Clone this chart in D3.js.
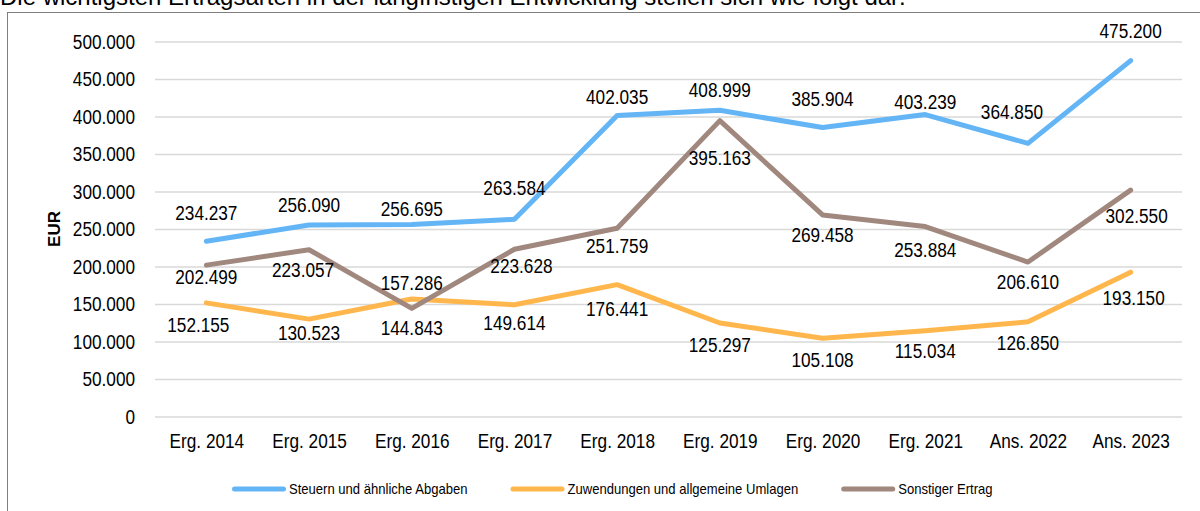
<!DOCTYPE html>
<html>
<head>
<meta charset="utf-8">
<script src="https://cdn.jsdelivr.net/npm/d3@7"></script>
<style>
  body { margin: 0; background: #fff; }
  svg text { font-family: "Liberation Sans", Arial, sans-serif; }
</style>
</head>
<body>
<script>
var categories = ["Erg. 2014", "Erg. 2015", "Erg. 2016", "Erg. 2017", "Erg. 2018",
                  "Erg. 2019", "Erg. 2020", "Erg. 2021", "Ans. 2022", "Ans. 2023"];
var steuern = [234237, 256090, 256695, 263584, 402035, 408999, 385904, 403239, 364850, 475200];
var zuwendungen = [152155, 130523, 157286, 149614, 176441, 125297, 105108, 115034, 126850, 193150];
var sonstiger = [202499, 223057, 144843, 223628, 251759, 395163, 269458, 253884, 206610, 302550];
var yTicks = [0, 50000, 100000, 150000, 200000, 250000, 300000, 350000, 400000, 450000, 500000];
var seriesNames = ["Steuern und ähnliche Abgaben", "Zuwendungen und allgemeine Umlagen", "Sonstiger Ertrag"];

// label offsets (px) relative to the point, as placed in the original
var steuernDy = [-28, -20, -15, -31, -18, -20, -29, -13, -31, -30];
var steuernDx = [0, 0, 0, 0, 0, 0, 0, 0, -16, 0];
var zuwendungenDy = [22, 14, -16, 18, 24, 22, 22, 20, 21, 26];
var zuwendungenDx = [-8, 0, 0, 0, 0, 0, 0, 0, 0, 3];
var sonstigerDy = [12, 20, 20, 17, 18, 37, 20, 23, 20, 26];
var sonstigerDx = [0, -6, 0, 7, 0, 0, 0, 0, 0, 6];

var colors = ["#64B5F6", "#FFB74D", "#A1887F"];

var width = 1200, height = 511;
var svg = d3.select("body").append("svg")
    .attr("width", width)
    .attr("height", height);

// the original font is narrower than Liberation Sans, so squeeze the glyphs a bit
function squeeze(sel, k) {
    sel.each(function () {
        var w = this.getComputedTextLength();
        d3.select(this)
            .attr("textLength", w * k)
            .attr("lengthAdjust", "spacingAndGlyphs");
    });
}

// intro sentence, cut at the top edge like in the source document
svg.append("text")
    .attr("x", 0)
    .attr("y", 5)
    .style("font-size", "24px")
    .text("Die wichtigsten Ertragsarten in der langfristigen Entwicklung stellen sich wie folgt dar:");

// chart frame
svg.append("rect")
    .attr("x", 7.5)
    .attr("y", 12.5)
    .attr("width", 1200)
    .attr("height", 520)
    .attr("fill", "none")
    .attr("stroke", "#7f7f7f")
    .attr("stroke-width", 1);

var x = d3.scalePoint()
    .domain(categories)
    .range([155, 1182])
    .padding(0.5);

var y = d3.scaleLinear()
    .domain([0, 500000])
    .range([417, 42]);

var fmt = function (v) { return d3.format(",")(v).replace(/,/g, "."); };

// gridlines
svg.append("g")
    .selectAll("line")
    .data(yTicks)
    .enter()
    .append("line")
    .attr("x1", 155)
    .attr("x2", 1182)
    .attr("y1", function (d) { return y(d); })
    .attr("y2", function (d) { return y(d); })
    .attr("stroke", "#d9d9d9")
    .attr("stroke-width", 1.5);

var yAxis = svg.append("g")
    .attr("transform", "translate(135,0)")
    .call(d3.axisLeft(y).tickValues(yTicks).tickSize(0).tickFormat(fmt));
yAxis.select(".domain").remove();
yAxis.attr("font-family", null);
yAxis.selectAll("text")
    .attr("x", 0)
    .attr("fill", "#000")
    .style("font-size", "20px")
    .call(squeeze, 0.86);

var xAxis = svg.append("g")
    .attr("transform", "translate(0,417)")
    .call(d3.axisBottom(x).tickSize(0));
xAxis.select(".domain").remove();
xAxis.attr("font-family", null);
xAxis.selectAll("text")
    .attr("y", 17)
    .attr("fill", "#000")
    .style("font-size", "20px")
    .call(squeeze, 0.86);

svg.append("text")
    .attr("transform", "translate(60,229) rotate(-90)")
    .attr("text-anchor", "middle")
    .style("font-weight", "bold")
    .style("font-size", "17px")
    .text("EUR");

var series = [
    { values: steuern, dy: steuernDy, dx: steuernDx },
    { values: zuwendungen, dy: zuwendungenDy, dx: zuwendungenDx },
    { values: sonstiger, dy: sonstigerDy, dx: sonstigerDx }
];

var line = d3.line()
    .x(function (d, i) { return x(categories[i]); })
    .y(function (d) { return y(d); });

// draw order: orange, brown, blue on top like the original
[1, 2, 0].forEach(function (s) {
    svg.append("path")
        .datum(series[s].values)
        .attr("d", line)
        .attr("fill", "none")
        .attr("stroke", colors[s])
        .attr("stroke-width", 5)
        .attr("stroke-linejoin", "round")
        .attr("stroke-linecap", "round");
});

series.forEach(function (s) {
    svg.append("g")
        .selectAll("text")
        .data(s.values)
        .enter()
        .append("text")
        .attr("x", function (d, i) { return x(categories[i]) + s.dx[i]; })
        .attr("y", function (d, i) { return y(d) + s.dy[i]; })
        .attr("dy", "0.35em")
        .attr("text-anchor", "middle")
        .style("font-size", "20px")
        .attr("fill", "#000")
        .text(fmt)
        .call(squeeze, 0.86);
});

// legend
var legend = svg.append("g").attr("transform", "translate(232,489)");
var lx = 0;
seriesNames.forEach(function (name, i) {
    var item = legend.append("g").attr("transform", "translate(" + lx + ",0)");
    item.append("line")
        .attr("x1", 2.5).attr("x2", 51.5)
        .attr("y1", 0).attr("y2", 0)
        .attr("stroke", colors[i])
        .attr("stroke-width", 5)
        .attr("stroke-linecap", "round");
    var t = item.append("text")
        .attr("x", 57)
        .attr("dy", "0.35em")
        .style("font-size", "15px")
        .attr("fill", "#000")
        .text(name);
    var w = t.node().getComputedTextLength() * 0.87;
    t.attr("textLength", w).attr("lengthAdjust", "spacingAndGlyphs");
    lx += 57 + w + 43;
});
</script>
</body>
</html>
